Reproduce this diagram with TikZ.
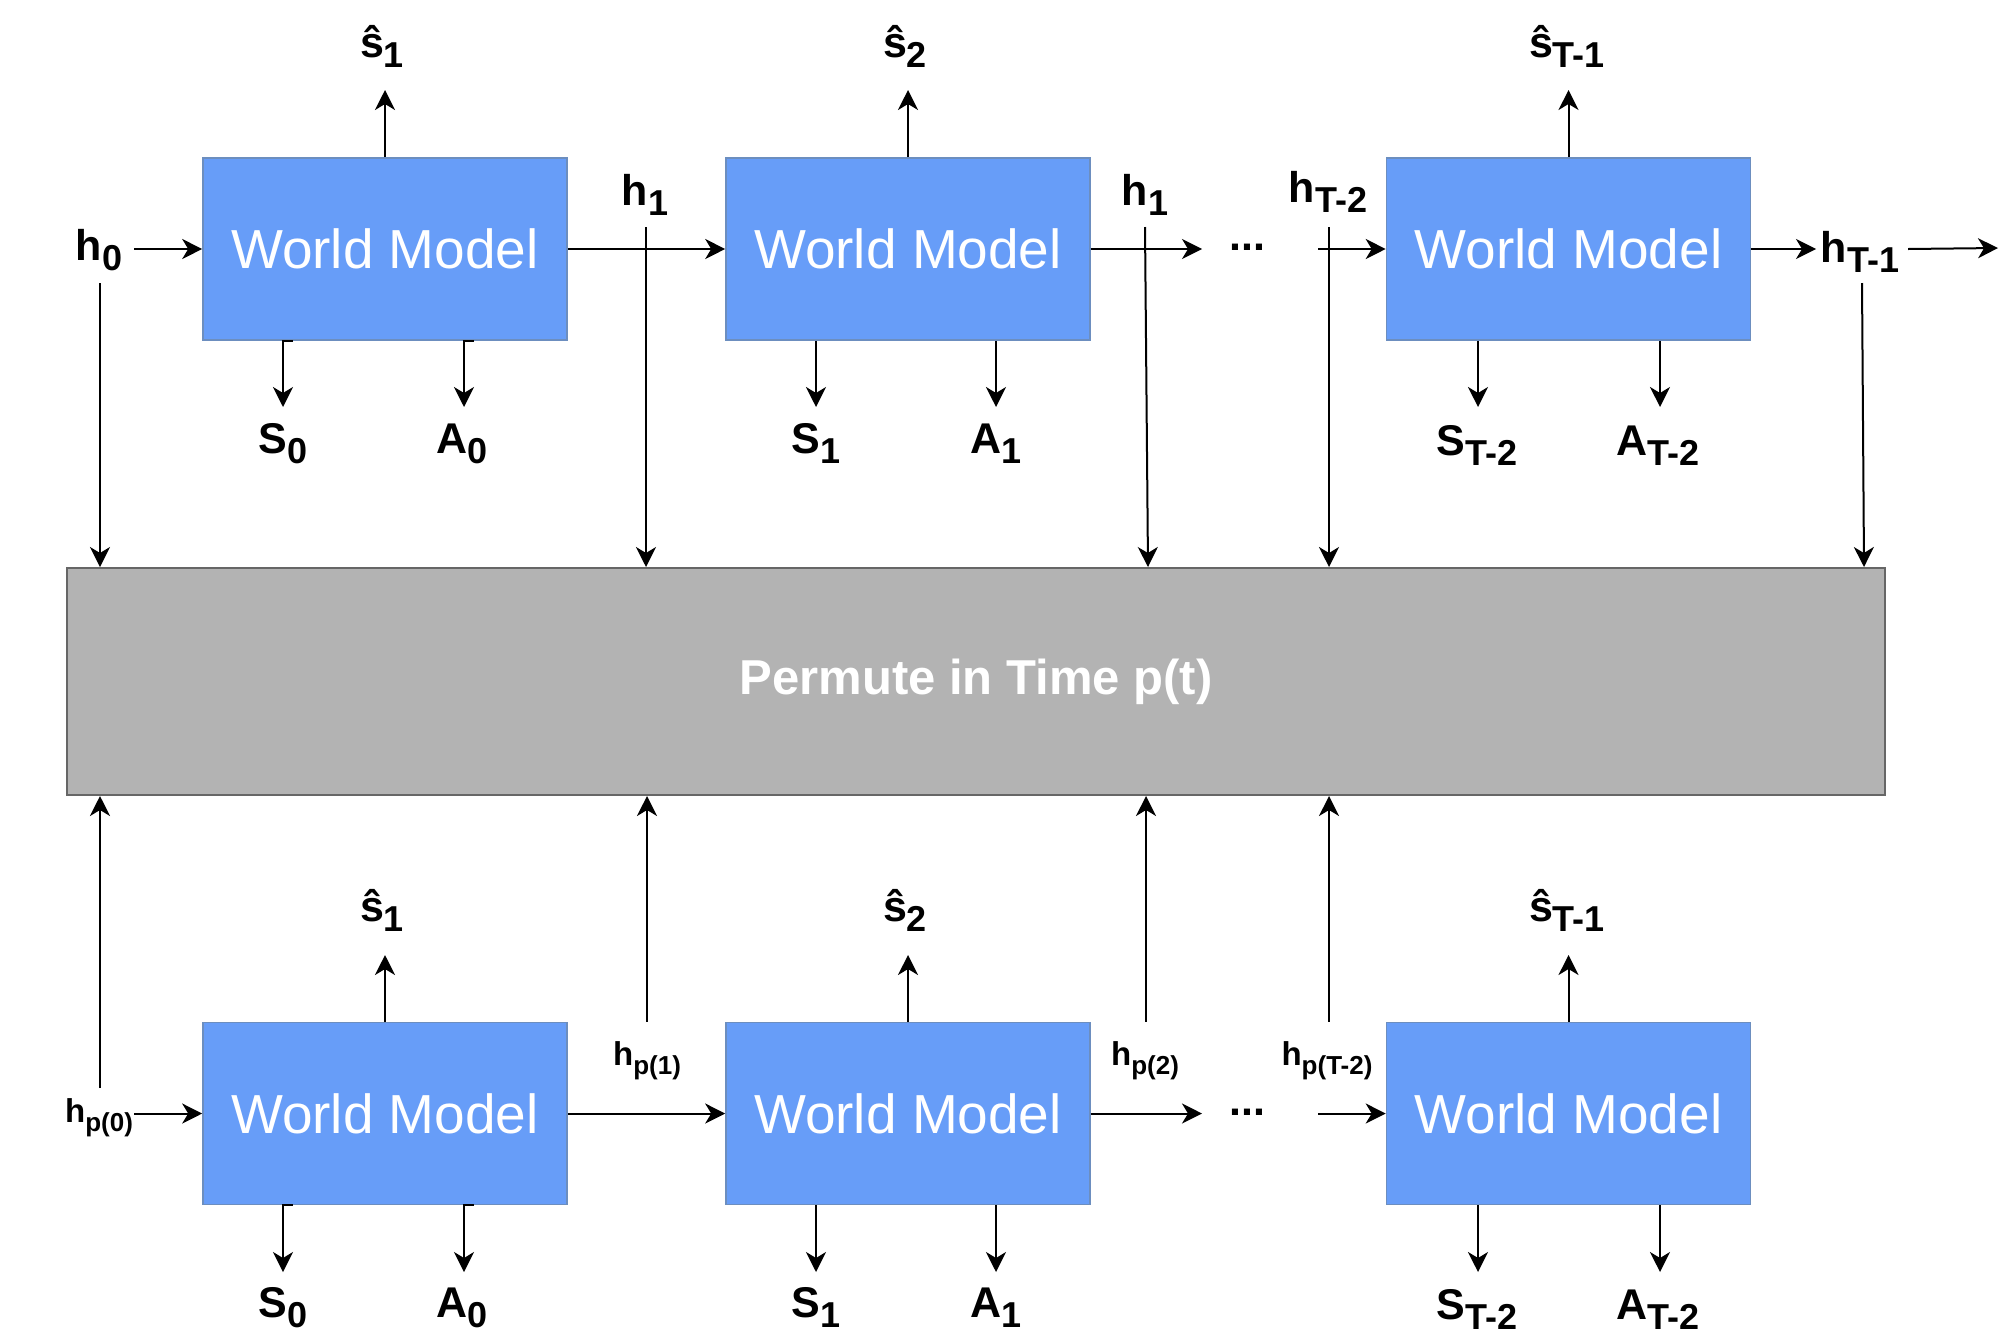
\documentclass[tikz,border=0pt]{standalone}
\usepackage{fontspec}
\setmainfont{Liberation Sans}
\usetikzlibrary{arrows.meta,calc}
\definecolor{wmfill}{HTML}{679DF8}
\definecolor{wmdraw}{HTML}{6C8EBF}
\definecolor{pgfill}{HTML}{B3B3B3}
\definecolor{pgdraw}{HTML}{666666}
\newcommand\bsub[1]{\raisebox{-5pt}{\fontsize{18}{18}\selectfont #1}}
\newcommand\ssub[1]{\raisebox{-4.5pt}{\fontsize{13}{13}\selectfont #1}}
\begin{document}
\begin{tikzpicture}[x=0.5pt,y=-0.5pt,
  wm/.style={rectangle, fill=wmfill, draw=wmdraw, line width=0.8pt, minimum width=182pt, minimum height=91pt, inner sep=0pt, text=white, font=\fontsize{27.5}{32}\selectfont},
  perm/.style={rectangle, fill=pgfill, draw=pgdraw, line width=1pt, minimum width=909pt, minimum height=113.5pt, inner sep=0pt, text=white, font=\bfseries\fontsize{24.5}{28}\selectfont},
  lab/.style={inner sep=0pt, anchor=base, font=\bfseries\fontsize{21.5}{24}\selectfont},
  slab/.style={inner sep=0pt, anchor=base, font=\bfseries\fontsize{16.5}{20}\selectfont},
  arr/.style={line width=1pt, -{Stealth[length=10pt,width=10pt,inset=3pt]}},
]
\useasboundingbox (0,0) rectangle (2011,1339);

% boxes
\node[wm] (w1) at (385,249) {World Model};
\node[wm] (w2) at (908,249) {World Model};
\node[wm] (w3) at (1568.5,249) {World Model};
\node[wm] (w4) at (385,1113.5) {World Model};
\node[wm] (w5) at (908,1113.5) {World Model};
\node[wm] (w6) at (1568.5,1113.5) {World Model};
\node[perm] (pm) at (976,681.5) {Permute in Time p(t)};

% top labels
\node[lab] (sh1) at (382,57) {ŝ\bsub{1}};
\node[lab] (sh2) at (905,57) {ŝ\bsub{2}};
\node[lab] (sh3) at (1567,57) {ŝ\bsub{T-1}};
\node[lab] (h0) at (99,260) {h\bsub{0}};
\node[lab] (h1) at (645,205) {h\bsub{1}};
\node[lab] (h1b) at (1145,205) {h\bsub{1}};
\node[lab] (hT2) at (1328,202) {h\bsub{T-2}};
\node[lab] (hT1) at (1860,262) {h\bsub{T-1}};
\node[lab] (dots1) at (1247,250) {...};
\node[lab] (S0) at (283,453) {S\bsub{0}};
\node[lab] (A0) at (462,453) {A\bsub{0}};
\node[lab] (S1) at (816,453) {S\bsub{1}};
\node[lab] (A1) at (996,453) {A\bsub{1}};
\node[lab] (ST2) at (1477,455) {S\bsub{T-2}};
\node[lab] (AT2) at (1658,455) {A\bsub{T-2}};

% bottom labels
\node[lab] (sh4) at (382,921) {ŝ\bsub{1}};
\node[lab] (sh5) at (905,921) {ŝ\bsub{2}};
\node[lab] (sh6) at (1567,921) {ŝ\bsub{T-1}};
\node[slab] (hp0) at (99,1122) {h\ssub{p(0)}};
\node[slab] (hp1) at (647,1065) {h\ssub{p(1)}};
\node[slab] (hp2) at (1145,1065) {h\ssub{p(2)}};
\node[slab] (hpT2) at (1327,1065) {h\ssub{p(T-2)}};
\node[lab] (dots2) at (1247,1115) {...};
\node[lab] (S0b) at (283,1317) {S\bsub{0}};
\node[lab] (A0b) at (462,1317) {A\bsub{0}};
\node[lab] (S1b) at (816,1317) {S\bsub{1}};
\node[lab] (A1b) at (996,1317) {A\bsub{1}};
\node[lab] (ST2b) at (1477,1319) {S\bsub{T-2}};
\node[lab] (AT2b) at (1658,1319) {A\bsub{T-2}};

\coordinate (hTout) at (1998,248);

% top row connectors
\draw[arr] ($(h0.base |- w1.west)+(35,0)$) -- (w1.west);
\draw[arr] ($(h0.base)+(1,23)$) -- ($(h0.base |- pm.north)+(1,0)$);
\draw[arr] (w1.east) -- (w2.west);
\draw[arr] ($(h1.base)+(1,22)$) -- ($(h1.base |- pm.north)+(1,0)$);
\draw[arr] (w1.north) -- ($(w1.north |- sh1.base)+(0,33)$);
\draw[arr] ($(w1.south -| S0.base)+(10,0)$) -- (w1.south -| S0.base) -- ($(S0.base)+(0,-46)$);
\draw[arr] ($(w1.south -| A0.base)+(12,0)$) -- ($(w1.south -| A0.base)+(2,0)$) -- ($(A0.base)+(2,-46)$);
\draw[arr] (w2.east) -- ($(dots1.base |- w2.east)+(-45,0)$);
\draw[arr] ($(h1b.base)+(0,22)$) -- ($(h1b.base |- pm.north)+(3,0)$);
\draw[arr] (w2.north) -- ($(w2.north |- sh2.base)+(0,33)$);
\draw[arr] (w2.south -| S1.base) -- ($(S1.base)+(0,-46)$);
\draw[arr] (w2.south -| A1.base) -- ($(A1.base)+(0,-46)$);
\draw[arr] ($(hT2.base |- w3.west)+(-10,0)$) -- (w3.west);
\draw[arr] ($(hT2.base)+(1,25)$) -- ($(hT2.base |- pm.north)+(1,0)$);
\draw[arr] (w3.north) -- ($(w3.north |- sh3.base)+(0,33)$);
\draw[arr] ($(w3.south -| ST2.base)+(1,0)$) -- ($(ST2.base)+(1,-48)$);
\draw[arr] ($(w3.south -| AT2.base)+(2,0)$) -- ($(AT2.base)+(2,-48)$);
\draw[arr] (w3.east) -- ($(hT1.base |- w3.east)+(-44,0)$);
\draw[arr] ($(hT1.base |- w3.east)+(48,0)$) -- (hTout);
\draw[arr] ($(hT1.base)+(2,21)$) -- ($(hT1.base |- pm.north)+(4,0)$);

% bottom row connectors
\draw[arr] ($(hp0.base |- w4.west)+(35,0)$) -- (w4.west);
\draw[arr] ($(hp0.base)+(1,-34)$) -- ($(hp0.base |- pm.south)+(1,0)$);
\draw[arr] (w4.east) -- (w5.west);
\draw[arr] (w4.north -| hp1.base) -- (hp1.base |- pm.south);
\draw[arr] (w4.north) -- ($(w4.north |- sh4.base)+(0,34)$);
\draw[arr] ($(w4.south -| S0b.base)+(10,0)$) -- (w4.south -| S0b.base) -- ($(S0b.base)+(0,-45)$);
\draw[arr] ($(w4.south -| A0b.base)+(12,0)$) -- ($(w4.south -| A0b.base)+(2,0)$) -- ($(A0b.base)+(2,-45)$);
\draw[arr] (w5.east) -- ($(dots2.base |- w5.east)+(-45,0)$);
\draw[arr] ($(w5.north -| hp2.base)+(1,0)$) -- ($(hp2.base |- pm.south)+(1,0)$);
\draw[arr] (w5.north) -- ($(w5.north |- sh5.base)+(0,34)$);
\draw[arr] (w5.south -| S1b.base) -- ($(S1b.base)+(0,-45)$);
\draw[arr] (w5.south -| A1b.base) -- ($(A1b.base)+(0,-45)$);
\draw[arr] ($(w5.north -| hpT2.base)+(2,0)$) -- ($(hpT2.base |- pm.south)+(2,0)$);
\draw[arr] ($(hpT2.base |- w6.west)+(-9,0)$) -- (w6.west);
\draw[arr] (w6.north) -- ($(w6.north |- sh6.base)+(0,34)$);
\draw[arr] ($(w6.south -| ST2b.base)+(1,0)$) -- ($(ST2b.base)+(1,-47)$);
\draw[arr] ($(w6.south -| AT2b.base)+(2,0)$) -- ($(AT2b.base)+(2,-47)$);
\end{tikzpicture}
\end{document}
